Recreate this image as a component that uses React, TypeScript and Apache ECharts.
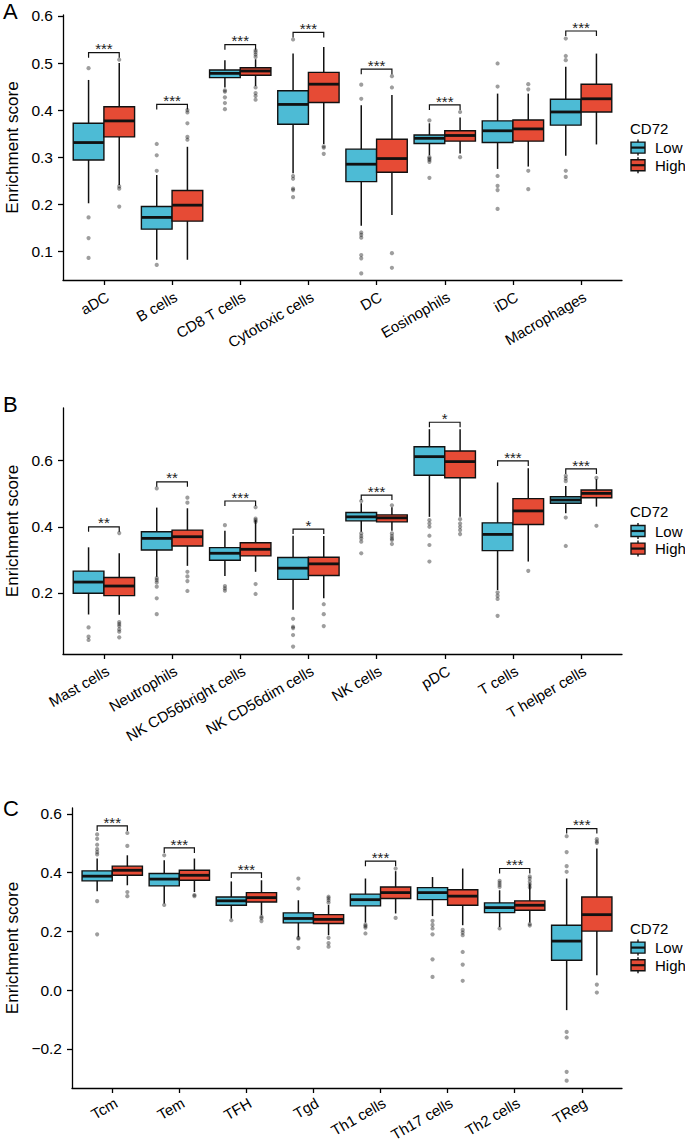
import React, { useEffect, useRef } from "react";
import * as echarts from "echarts";

const FONT = "'Liberation Sans', Arial, Helvetica, sans-serif";
const LOW_COLOR = "#4DBBD5";
const HIGH_COLOR = "#E64B35";
const groupNames = ["Low", "High"];
const legendTitle = "CD72";
const yTitle = "Enrichment score";

// ---------- Panel A ----------
const catsA = ["aDC", "B cells", "CD8 T cells", "Cytotoxic cells", "DC", "Eosinophils", "iDC", "Macrophages"];
// [lower whisker, Q1, median, Q3, upper whisker]
const lowStatsA = [
  [0.202, 0.294, 0.331, 0.372, 0.464],
  [0.082, 0.147, 0.172, 0.195, 0.262],
  [0.448, 0.469, 0.478, 0.485, 0.506],
  [0.266, 0.37, 0.412, 0.441, 0.52],
  [0.154, 0.248, 0.285, 0.317, 0.41],
  [0.304, 0.329, 0.34, 0.347, 0.372],
  [0.275, 0.331, 0.356, 0.377, 0.435],
  [0.303, 0.368, 0.396, 0.423, 0.492],
];
const highStatsA = [
  [0.241, 0.343, 0.377, 0.407, 0.5],
  [0.082, 0.164, 0.198, 0.229, 0.322],
  [0.451, 0.474, 0.483, 0.49, 0.508],
  [0.328, 0.416, 0.455, 0.48, 0.534],
  [0.177, 0.268, 0.297, 0.338, 0.432],
  [0.308, 0.334, 0.346, 0.356, 0.384],
  [0.28, 0.334, 0.36, 0.379, 0.435],
  [0.327, 0.396, 0.424, 0.455, 0.52],
];
const lowOutA = [
  [0.489, 0.172, 0.128, 0.086],
  [0.328, 0.304, 0.271, 0.071],
  [0.442, 0.439, 0.427, 0.415, 0.402],
  [0.55, 0.26, 0.254, 0.233, 0.23, 0.215],
  [0.454, 0.424, 0.14, 0.135, 0.129, 0.092, 0.085, 0.053],
  [0.378, 0.3, 0.297, 0.294, 0.29, 0.256],
  [0.499, 0.45, 0.26, 0.239, 0.23, 0.19],
  [0.552, 0.515, 0.506, 0.271, 0.258],
];
const highOutA = [
  [0.507, 0.238, 0.233, 0.195],
  [0.4, 0.395, 0.372, 0.343, 0.337],
  [0.527, 0.523, 0.518, 0.513, 0.448, 0.436, 0.43, 0.422],
  [0.323, 0.32, 0.307],
  [0.472, 0.448, 0.096, 0.065],
  [0.396, 0.3],
  [0.455, 0.444, 0.271, 0.232],
  [],
];
const sigYA = [0.522, 0.412, 0.539, 0.565, 0.487, 0.411, null, 0.568];
const sigLabA = ["***", "***", "***", "***", "***", "***", "", "***"];
const ticksA = [0.1, 0.2, 0.3, 0.4, 0.5, 0.6];

// ---------- Panel B ----------
const catsB = ["Mast cells", "Neutrophils", "NK CD56bright cells", "NK CD56dim cells", "NK cells", "pDC", "T cells", "T helper cells"];
const lowStatsB = [
  [0.135, 0.199, 0.233, 0.266, 0.338],
  [0.249, 0.33, 0.365, 0.385, 0.458],
  [0.251, 0.299, 0.32, 0.337, 0.388],
  [0.149, 0.241, 0.275, 0.307, 0.373],
  [0.385, 0.418, 0.43, 0.443, 0.471],
  [0.43, 0.556, 0.612, 0.642, 0.695],
  [0.209, 0.328, 0.377, 0.412, 0.534],
  [0.441, 0.471, 0.481, 0.491, 0.523],
];
const highStatsB = [
  [0.134, 0.192, 0.221, 0.247, 0.32],
  [0.282, 0.342, 0.37, 0.39, 0.456],
  [0.264, 0.312, 0.332, 0.352, 0.42],
  [0.184, 0.253, 0.288, 0.308, 0.372],
  [0.388, 0.415, 0.427, 0.436, 0.459],
  [0.43, 0.548, 0.597, 0.629, 0.695],
  [0.295, 0.407, 0.448, 0.485, 0.577],
  [0.461, 0.488, 0.501, 0.511, 0.544],
];
const lowOutB = [
  [0.096, 0.068, 0.058],
  [0.516, 0.245, 0.239, 0.232, 0.219, 0.184, 0.136],
  [0.405, 0.221, 0.214, 0.207],
  [0.122, 0.098, 0.094, 0.073, 0.038],
  [0.478, 0.38, 0.372, 0.365, 0.355, 0.32],
  [0.42, 0.41, 0.4, 0.373, 0.345, 0.295],
  [0.202, 0.192, 0.182, 0.131],
  [0.554, 0.546, 0.538, 0.428, 0.342],
];
const highOutB = [
  [0.381, 0.112, 0.106, 0.1, 0.09, 0.083, 0.066],
  [0.488, 0.473, 0.264, 0.25, 0.236, 0.206],
  [0.459, 0.425, 0.42, 0.415, 0.227, 0.197],
  [0.166, 0.136, 0.1],
  [0.465, 0.38, 0.372, 0.365, 0.36, 0.348],
  [0.423, 0.41, 0.4, 0.39, 0.378],
  [0.267],
  [0.548, 0.403],
];
const sigYB = [0.4, 0.536, 0.478, 0.393, 0.496, 0.716, 0.599, 0.575];
const sigLabB = ["**", "**", "***", "*", "***", "*", "***", "***"];
const ticksB = [0.2, 0.4, 0.6];

// ---------- Panel C ----------
const catsC = ["Tcm", "Tem", "TFH", "Tgd", "Th1 cells", "Th17 cells", "Th2 cells", "TReg"];
const lowStatsC = [
  [0.337, 0.372, 0.388, 0.406, 0.448],
  [0.295, 0.355, 0.378, 0.397, 0.442],
  [0.244, 0.289, 0.304, 0.317, 0.37],
  [0.181, 0.229, 0.244, 0.263, 0.306],
  [0.23, 0.287, 0.308, 0.327, 0.38],
  [0.252, 0.308, 0.332, 0.349, 0.385],
  [0.215, 0.264, 0.281, 0.297, 0.34],
  [-0.068, 0.102, 0.167, 0.221, 0.38],
];
const highStatsC = [
  [0.357, 0.391, 0.408, 0.422, 0.459],
  [0.334, 0.374, 0.391, 0.408, 0.448],
  [0.255, 0.3, 0.315, 0.332, 0.374],
  [0.187, 0.227, 0.241, 0.257, 0.29],
  [0.261, 0.312, 0.332, 0.351, 0.405],
  [0.221, 0.289, 0.32, 0.342, 0.414],
  [0.23, 0.272, 0.289, 0.304, 0.363],
  [0.051, 0.201, 0.257, 0.317, 0.482],
];
const lowOutC = [
  [0.53, 0.515, 0.495, 0.48, 0.47, 0.462, 0.303, 0.19],
  [0.459, 0.29],
  [0.238],
  [0.38, 0.346, 0.178, 0.175, 0.144],
  [0.223, 0.218, 0.213, 0.193],
  [0.236, 0.222, 0.21, 0.19, 0.105, 0.045],
  [0.372, 0.365, 0.358, 0.351, 0.21],
  [0.524, 0.47, 0.422, 0.403, -0.142, -0.161, -0.278, -0.308],
];
const highOutC = [
  [0.535, 0.491, 0.334, 0.32],
  [0.324, 0.32],
  [0.25, 0.245, 0.235],
  [0.318, 0.313, 0.306, 0.298, 0.178, 0.16, 0.148],
  [0.414, 0.246],
  [0.205, 0.196, 0.187, 0.13, 0.087, 0.032],
  [0.387, 0.38, 0.37, 0.36, 0.35, 0.225, 0.22],
  [0.514, 0.506, 0.501, 0.019, -0.008],
];
const sigYC = [0.559, 0.484, 0.399, null, 0.439, null, 0.414, 0.55];
const sigLabC = ["***", "***", "***", "", "***", "", "***", "***"];
const ticksC = [-0.2, 0.0, 0.2, 0.4, 0.6];

type Panel = {
  letter: string;
  cats: string[];
  low: number[][];
  high: number[][];
  lowOut: number[][];
  highOut: number[][];
  sigY: (number | null)[];
  sigLab: string[];
  ticks: number[];
  yMin: number;
  yMax: number;
  left: number;
  right: number;
  top: number;
  bottom: number;
  letterY: number;
  legendY: number;
  nameGap: number;
  labelMargin: number;
};

const W = 685;
const BOX_HALF = 0.225; // half of dodge offset, in band units
const BOX_W = 0.45;

function fmt(v: number) {
  const s = Math.abs(v) < 1e-9 ? "0.0" : v.toFixed(1);
  return s.replace("-", "\u2212");
}

function buildOption() {
  const panels: Panel[] = [
    {
      letter: "A", cats: catsA, low: lowStatsA, high: highStatsA, lowOut: lowOutA, highOut: highOutA,
      sigY: sigYA, sigLab: sigLabA, ticks: ticksA, yMin: 0.039, yMax: 0.602,
      left: 63, right: 63, top: 15, bottom: 280, letterY: 11.5, legendY: 128.3, nameGap: 40, labelMargin: 9,
    },
    {
      letter: "B", cats: catsB, low: lowStatsB, high: highStatsB, lowOut: lowOutB, highOut: highOutB,
      sigY: sigYB, sigLab: sigLabB, ticks: ticksB, yMin: 0.0156, yMax: 0.759,
      left: 63, right: 63, top: 408, bottom: 654, letterY: 404, legendY: 511.7, nameGap: 40, labelMargin: 9,
    },
    {
      letter: "C", cats: catsC, low: lowStatsC, high: highStatsC, lowOut: lowOutC, highOut: highOutC,
      sigY: sigYC, sigLab: sigLabC, ticks: ticksC, yMin: -0.333, yMax: 0.62,
      left: 72, right: 63, top: 808, bottom: 1088, letterY: 808.3, legendY: 928.3, nameGap: 49, labelMargin: 7,
    },
  ];

  const grid: any[] = [];
  const xAxis: any[] = [];
  const yAxis: any[] = [];
  const series: any[] = [];
  const graphic: any[] = [];
  const axisLineStyle = { color: "#000", width: 1.3 };

  panels.forEach((p, i) => {
    const plotW = W - p.left - p.right;
    const band = plotW / (p.cats.length + 0.2);
    const pad = 0.1 * band;
    const h = p.bottom - p.top;
    const go = 2 * i;
    const gi = 2 * i + 1;

    grid.push({ left: p.left, right: p.right, top: p.top, height: h, containLabel: false, outerBoundsMode: "none" });
    grid.push({ left: p.left + pad, right: p.right + pad, top: p.top, height: h, containLabel: false, outerBoundsMode: "none" });

    xAxis.push({
      gridIndex: go, type: "value", min: 0, max: 1, position: "bottom",
      axisLine: { show: true, onZero: false, lineStyle: axisLineStyle },
      axisTick: { show: false }, axisLabel: { show: false }, splitLine: { show: false },
    });
    xAxis.push({
      gridIndex: gi, type: "category", data: p.cats, boundaryGap: true, position: "bottom",
      axisLine: { show: false, onZero: false },
      axisTick: { show: true, alignWithLabel: true, interval: 0, length: 5, lineStyle: axisLineStyle },
      axisLabel: {
        interval: 0, rotate: 30, align: "right", verticalAlign: "top", margin: p.labelMargin,
        color: "#000", fontSize: 15, fontFamily: FONT,
      },
      splitLine: { show: false },
    });
    yAxis.push({
      gridIndex: go, type: "value", min: p.yMin, max: p.yMax, position: "left",
      name: yTitle, nameLocation: "middle", nameGap: p.nameGap,
      nameTextStyle: { color: "#000", fontSize: 17, fontFamily: FONT },
      axisLine: { show: true, onZero: false, lineStyle: axisLineStyle },
      axisTick: { show: true, length: 5, customValues: p.ticks, lineStyle: axisLineStyle },
      axisLabel: {
        customValues: p.ticks, formatter: (v: number) => fmt(v), margin: 10,
        color: "#000", fontSize: 15.5, fontFamily: FONT,
      },
      splitLine: { show: false },
    });
    yAxis.push({ gridIndex: gi, type: "value", min: p.yMin, max: p.yMax, show: false, splitLine: { show: false } });

    // outliers
    const outData: number[][] = [];
    p.lowOut.forEach((arr, c) => arr.forEach((v) => outData.push([c, 0, v])));
    p.highOut.forEach((arr, c) => arr.forEach((v) => outData.push([c, 1, v])));
    series.push({
      type: "custom", xAxisIndex: gi, yAxisIndex: gi, silent: true, clip: false,
      encode: { x: 0, y: 2 },
      data: outData,
      renderItem: (params: any, api: any) => {
        const c = api.value(0);
        const g = api.value(1);
        const bw = api.size([1, 0])[0];
        const pt = api.coord([c, api.value(2)]);
        const cx = pt[0] + (g === 0 ? -1 : 1) * BOX_HALF * bw;
        return { type: "circle", shape: { cx, cy: pt[1], r: 2.1 }, style: { fill: "rgba(0,0,0,0.38)" } };
      },
    });

    // boxes
    const boxData: number[][] = [];
    p.low.forEach((s, c) => boxData.push([c, 0, ...s]));
    p.high.forEach((s, c) => boxData.push([c, 1, ...s]));
    series.push({
      type: "custom", xAxisIndex: gi, yAxisIndex: gi, silent: true, clip: false,
      encode: { x: 0, y: [2, 3, 4, 5, 6] },
      data: boxData,
      renderItem: (params: any, api: any) => {
        const c = api.value(0);
        const g = api.value(1);
        const bw = api.size([1, 0])[0];
        const base = api.coord([c, api.value(4)]);
        const cx = base[0] + (g === 0 ? -1 : 1) * BOX_HALF * bw;
        const w = BOX_W * bw;
        const yLo = api.coord([c, api.value(2)])[1];
        const yQ1 = api.coord([c, api.value(3)])[1];
        const yMed = base[1];
        const yQ3 = api.coord([c, api.value(5)])[1];
        const yHi = api.coord([c, api.value(6)])[1];
        const col = g === 0 ? LOW_COLOR : HIGH_COLOR;
        return {
          type: "group",
          children: [
            { type: "line", shape: { x1: cx, y1: yHi, x2: cx, y2: yLo }, style: { stroke: "#111", lineWidth: 1.5 } },
            { type: "rect", shape: { x: cx - w / 2, y: yQ3, width: w, height: yQ1 - yQ3 }, style: { fill: col, stroke: "#111", lineWidth: 1.4 } },
            { type: "line", shape: { x1: cx - w / 2, y1: yMed, x2: cx + w / 2, y2: yMed }, style: { stroke: "#111", lineWidth: 2.8 } },
          ],
        };
      },
    });

    // significance brackets
    const sigData: number[][] = [];
    const sigText: string[] = [];
    p.sigY.forEach((y, c) => {
      if (y !== null) {
        sigData.push([c, y]);
        sigText.push(p.sigLab[c]);
      }
    });
    series.push({
      type: "custom", xAxisIndex: gi, yAxisIndex: gi, silent: true, clip: false,
      encode: { x: 0, y: 1 },
      data: sigData,
      renderItem: (params: any, api: any) => {
        const c = api.value(0);
        const bw = api.size([1, 0])[0];
        const pt = api.coord([c, api.value(1)]);
        const xL = pt[0] - BOX_HALF * bw;
        const xR = pt[0] + BOX_HALF * bw;
        const y = pt[1];
        const tip = 5;
        return {
          type: "group",
          children: [
            {
              type: "polyline",
              shape: { points: [[xL, y + tip], [xL, y], [xR, y], [xR, y + tip]] },
              style: { stroke: "#111", lineWidth: 1.2, fill: "none" },
            },
            {
              type: "text", x: pt[0], y: y - 3.8,
              style: { text: sigText[params.dataIndex], fill: "#222", fontSize: 15, fontFamily: FONT, align: "center", verticalAlign: "middle" },
            },
          ],
        };
      },
    });

    // panel letter
    graphic.push({
      type: "text", x: 3, y: p.letterY,
      style: { text: p.letter, fill: "#000", fontSize: 22, fontFamily: FONT, align: "left", verticalAlign: "middle" },
    });
    // legend
    graphic.push({
      type: "text", x: 630, y: p.legendY,
      style: { text: legendTitle, fill: "#000", fontSize: 15, fontFamily: FONT, align: "left", verticalAlign: "middle" },
    });
    groupNames.forEach((name, k) => {
      const ky = p.legendY + 19.3 + k * 17.6;
      const col = k === 0 ? LOW_COLOR : HIGH_COLOR;
      const kx = 631;
      const kw = 14;
      graphic.push({
        type: "group",
        children: [
          { type: "line", shape: { x1: kx + kw / 2, y1: ky - 8, x2: kx + kw / 2, y2: ky + 8 }, style: { stroke: "#111", lineWidth: 1.4 } },
          { type: "rect", shape: { x: kx, y: ky - 5.5, width: kw, height: 11 }, style: { fill: col, stroke: "#111", lineWidth: 1.4 } },
          { type: "line", shape: { x1: kx, y1: ky, x2: kx + kw, y2: ky }, style: { stroke: "#111", lineWidth: 2.2 } },
        ],
      });
      graphic.push({
        type: "text", x: 655, y: ky,
        style: { text: name, fill: "#000", fontSize: 15, fontFamily: FONT, align: "left", verticalAlign: "middle" },
      });
    });
  });

  return {
    animation: false,
    backgroundColor: "#fff",
    textStyle: { fontFamily: FONT },
    grid,
    xAxis,
    yAxis,
    series,
    graphic,
  };
}

export default function App() {
  const ref = useRef<HTMLDivElement>(null);
  useEffect(() => {
    if (!ref.current) return;
    const chart = echarts.init(ref.current, null, { renderer: "svg" });
    chart.setOption(buildOption() as any);
    return () => chart.dispose();
  }, []);
  return (
    <div
      ref={ref}
      style={{ position: "absolute", left: 0, top: 0, width: W, height: 1143, background: "#fff" }}
    />
  );
}
